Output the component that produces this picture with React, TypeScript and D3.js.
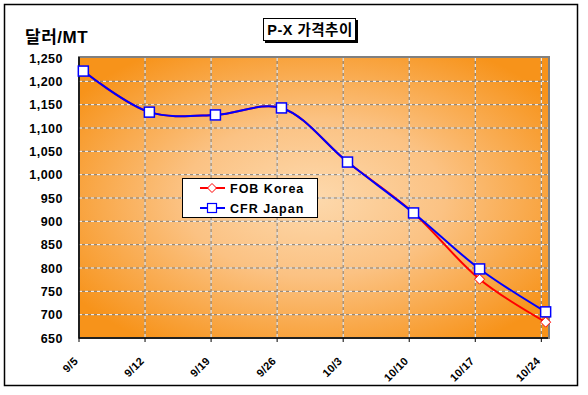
import React from 'react';
import * as d3 from 'd3';

// week labels and prices (USD/MT)
const weeks = ['9/5', '9/12', '9/19', '9/26', '10/3', '10/10', '10/17', '10/24'];
const fobKorea = [1222, 1134, 1128, 1143, 1027, 918, 776, 684];
const cfrJapan = [1222, 1134, 1128, 1143, 1027, 918, 798, 706];
const yTicks = [650, 700, 750, 800, 850, 900, 950, 1000, 1050, 1100, 1150, 1200, 1250];

const W = 588;
const H = 395;
const plot = { left: 79, top: 58, right: 548, bottom: 338 };

const toDate = (label: string, hour = 0) => {
  const [m, d] = label.split('/').map(Number);
  return new Date(2008, m - 1, d, hour);
};

const tickDates = weeks.map(w => toDate(w));
const pointDates = weeks.map(w => toDate(w, 11));

const App: React.FC = () => {
  const x = d3.scaleTime()
    .domain([tickDates[0], d3.timeHour.offset(tickDates[tickDates.length - 1], 17)])
    .range([plot.left, plot.right]);
  const y = d3.scaleLinear().domain([650, 1250]).range([plot.bottom, plot.top]);

  const line = d3.line<number>()
    .x((_, i) => x(pointDates[i]))
    .y(d => y(d))
    .curve(d3.curveCatmullRom.alpha(0.5));

  const font = 'Arial, "Liberation Sans", "Noto Sans CJK KR", sans-serif';

  return (
    <svg width={W} height={H} style={{ position: 'absolute', left: 0, top: 0 }} fontFamily={font}>
      <defs>
        <radialGradient id="bg" cx="0.5" cy="0.5" r="0.62">
          <stop offset="0" stopColor="#fdd9ad" />
          <stop offset="0.45" stopColor="#fbc283" />
          <stop offset="1" stopColor="#f7931a" />
        </radialGradient>
      </defs>
      <rect x={0} y={0} width={W} height={H} fill="#fff" />
      <rect x={4.5} y={4.5} width={573} height={381} fill="#fff" stroke="#000" strokeWidth={1.5} />

      {/* plot area */}
      <rect x={plot.left} y={plot.top} width={plot.right - plot.left} height={plot.bottom - plot.top}
        fill="url(#bg)" />
      <rect x={plot.left} y={plot.top - 1} width={plot.right - plot.left + 1} height={plot.bottom - plot.top + 1}
        fill="none" stroke="#808080" strokeWidth={2} />

      {/* gridlines */}
      {yTicks.slice(1, -1).map(t => (
        <g key={'gy' + t}>
          <line x1={plot.left} x2={plot.right} y1={y(t)} y2={y(t)} stroke="#808080" strokeWidth={1} />
          <line x1={plot.left} x2={plot.right} y1={y(t)} y2={y(t)} stroke="#fff" strokeWidth={1} strokeDasharray="3,3" />
        </g>
      ))}
      {tickDates.slice(1).map((d, i) => (
        <g key={'gx' + i}>
          <line x1={x(d)} x2={x(d)} y1={plot.top} y2={plot.bottom} stroke="#808080" strokeWidth={1} />
          <line x1={x(d)} x2={x(d)} y1={plot.top} y2={plot.bottom} stroke="#fff" strokeWidth={1} strokeDasharray="3,3" />
        </g>
      ))}

      {/* axes */}
      <line x1={plot.left} x2={plot.left} y1={plot.top - 1} y2={plot.bottom} stroke="#000" strokeWidth={1.5} />
      <line x1={plot.left} x2={plot.right} y1={plot.bottom} y2={plot.bottom} stroke="#000" strokeWidth={1.5} />
      {tickDates.map((d, i) => (
        <line key={'tx' + i} x1={x(d)} x2={x(d)} y1={plot.bottom} y2={plot.bottom + 4} stroke="#000" strokeWidth={1} />
      ))}

      {yTicks.map(t => (
        <text key={'ly' + t} x={63} y={y(t)} dy="0.36em" textAnchor="end" fontSize={12.5} fontWeight="bold"
          letterSpacing={0.5}>
          {d3.format(',')(t)}
        </text>
      ))}
      {weeks.map((w, i) => (
        <text key={'lx' + w} transform={`translate(${x(tickDates[i]) - 3},${plot.bottom + 21}) rotate(-45)`}
          textAnchor="end" fontSize={11} fontWeight="bold" dy="0.35em" letterSpacing={0.3}>
          {w}
        </text>
      ))}

      {/* series */}
      <path d={line(fobKorea) || ''} fill="none" stroke="#ff0000" strokeWidth={2} />
      {fobKorea.map((v, i) => {
        const cx = x(pointDates[i]);
        const cy = y(v);
        return (
          <path key={'fk' + i} d={`M${cx},${cy - 5}L${cx + 5},${cy}L${cx},${cy + 5}L${cx - 5},${cy}Z`}
            fill="#fff" stroke="#ff0000" strokeWidth={1} />
        );
      })}
      <path d={line(cfrJapan) || ''} fill="none" stroke="#0000ff" strokeWidth={2} />
      {cfrJapan.map((v, i) => (
        <rect key={'cj' + i} x={x(pointDates[i]) - 5} y={y(v) - 5} width={10} height={10}
          fill="#fff" stroke="#0000ff" strokeWidth={1.5} />
      ))}

      {/* y axis unit */}
      <text x={25} y={43} fontSize={17} fontWeight="bold" letterSpacing={0.5}>달러/MT</text>

      {/* title */}
      <rect x={265} y={20} width={93} height={23} fill="#000" />
      <rect x={263.5} y={18.5} width={92} height={22} fill="#fff" stroke="#000" strokeWidth={1} />
      <text x={310} y={30} dy="0.36em" textAnchor="middle" fontSize={14.5} fontWeight="bold" letterSpacing={0.5}>
        P-X 가격추이
      </text>

      {/* legend */}
      <rect x={182.5} y={178.5} width={135} height={39} fill="#fff" stroke="#000" strokeWidth={1} />
      <line x1={200} x2={225} y1={188} y2={188} stroke="#ff0000" strokeWidth={2} />
      <path d="M212,183.5L216.5,188L212,192.5L207.5,188Z" fill="#fff" stroke="#ff0000" strokeWidth={1} />
      <text x={230} y={188} dy="0.36em" fontSize={12.5} fontWeight="bold" letterSpacing={1}>FOB Korea</text>
      <line x1={200} x2={225} y1={208} y2={208} stroke="#0000ff" strokeWidth={2} />
      <rect x={207.5} y={203.5} width={9} height={9} fill="#fff" stroke="#0000ff" strokeWidth={1.2} />
      <text x={230} y={208} dy="0.36em" fontSize={12.5} fontWeight="bold" letterSpacing={1}>CFR Japan</text>
    </svg>
  );
};

export default App;
